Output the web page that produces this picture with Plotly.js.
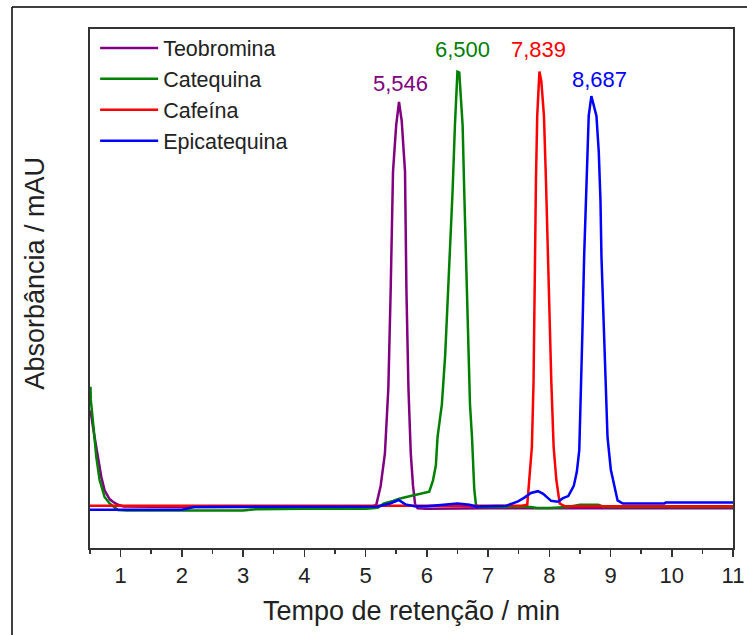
<!DOCTYPE html>
<html>
<head>
<meta charset="utf-8">
<script src="https://cdn.plot.ly/plotly-3.0.1.min.js"></script>
<style>html,body{margin:0;padding:0;background:#fff;}#chart{width:747px;height:635px;}</style>
</head>
<body>
<div id="chart"></div>
<script>
// Series names and colours
const seriesNames = ["Teobromina", "Catequina", "Cafeína", "Epicatequina"];
const seriesColors = ["#800080", "#008000", "#ff0000", "#0000ff"];

// Teobromina
const teoX = [0.508,0.53,0.562,0.602,0.656,0.684,0.738,0.766,0.82,0.874,0.956,1.05,1.5,2.0,2.5,3.0,3.5,4.0,4.5,5.0,5.1,5.175,5.246,5.316,5.372,5.41,5.448,5.50,5.546,5.59,5.644,5.667,5.70,5.738,5.775,5.81,5.85,6.0,6.5,7.0,7.5,8.0,8.5,9.0,9.5,10.0,10.5,11.0];
const teoY = [22,19.5,17,13.7,9.5,6.9,3.8,3.1,1.8,1.2,0.5,0.1,0,0,0,0,0,0,0,0,0.1,0.5,4.8,12.2,27.1,49.5,76.4,87,92.3,88,76.4,49.5,27.1,12.2,4.8,0.5,-0.3,-0.4,-0.3,-0.3,-0.3,-0.3,-0.3,-0.3,-0.3,-0.3,-0.3,-0.3];

// Catequina
const catX = [0.508,0.513,0.562,0.602,0.656,0.738,0.82,0.956,1.1,1.5,2.0,2.5,3.0,3.2,3.5,4.0,4.5,5.0,5.2,5.3,5.45,5.55,5.70,5.874,5.95,6.04,6.10,6.148,6.175,6.246,6.30,6.349,6.421,6.459,6.50,6.53,6.585,6.611,6.656,6.677,6.705,6.738,6.749,6.775,6.803,6.85,7.0,7.5,7.7,7.8,8.0,8.3,8.5,8.8,8.9,9.5,10.0,11.0];
const catY = [27.4,24.4,17.5,11.5,6.2,2.3,0.8,-0.7,-0.8,-0.8,-0.8,-0.8,-0.8,-0.5,-0.4,-0.4,-0.4,-0.4,-0.2,0.8,1.4,1.9,2.4,3.0,3.3,3.5,6.0,9.5,15.9,23.4,34.6,49.5,72.0,86.9,99.2,99.0,86.9,72.0,49.5,34.6,23.4,15.9,12.2,4.0,0.5,0,0,0,0,-0.2,-0.2,0,0.5,0.5,0,0,0,0];

// Cafeína
const cafX = [0.5,2.0,4.0,5.0,6.0,7.0,7.55,7.64,7.677,7.716,7.743,7.759,7.782,7.803,7.839,7.87,7.913,7.946,7.989,8.033,8.071,8.115,8.17,8.25,9.0,10.0,11.0];
const cafY = [0.3,0.3,0.3,0.3,0.3,0.3,0.3,0.5,6.2,13.7,28.6,51.0,74.2,89.1,99.2,97.0,89.1,74.2,51.0,28.6,13.7,6.2,0.8,0.2,0.2,0.2,0.2];

// Epicatequina
const epiX = [0.5,1.0,2.0,2.2,3.0,3.5,4.0,5.0,5.2,5.4,5.54,5.65,5.8,6.0,6.3,6.5,6.7,6.8,7.3,7.49,7.6,7.7,7.815,7.9,8.03,8.14,8.225,8.31,8.40,8.45,8.49,8.513,8.541,8.569,8.601,8.623,8.644,8.687,8.72,8.770,8.808,8.836,8.852,8.885,8.918,8.951,9.005,9.06,9.115,9.2,9.5,9.88,9.9,10.5,11.0];
const epiY = [-0.6,-0.6,-0.6,0,0,0.1,0.1,0.1,0.1,0.8,1.6,0.6,0.2,0.2,0.5,0.8,0.5,0.1,0.3,1.3,2.2,3.2,3.6,3.0,1.4,1.2,2.0,2.5,4.8,8.0,13.0,24.0,40.0,57.0,69.7,80.9,89.1,93.6,92.0,89.1,80.9,69.7,57.0,42.1,27.1,15.9,8.5,4.7,1.5,0.8,0.8,0.8,1.0,1.0,1.0];

// Peak labels
const peakLabels = ["5,546", "6,500", "7,839", "8,687"];
const peakLabelX = [5.566, 6.59, 7.828, 8.828];
const peakLabelY = [96.4, 104.3, 104.3, 97.3];

const xsData = [teoX, catX, cafX, epiX];
const ysData = [teoY, catY, cafY, epiY];

const traces = seriesNames.map((n, i) => ({
  type: "scatter", mode: "lines", name: n,
  x: xsData[i], y: ysData[i],
  line: {color: seriesColors[i], width: 2.5}
}));

const font = "Arial, 'Liberation Sans', sans-serif";
const annotations = peakLabels.map((t, i) => ({
  x: peakLabelX[i], y: peakLabelY[i], xref: "x", yref: "y",
  text: t, showarrow: false,
  font: {family: font, size: 22, color: seriesColors[i]}
}));
annotations.push({
  text: "Absorbância / mAU", xref: "paper", yref: "paper",
  x: -0.086, y: 0.53, xanchor: "center", yanchor: "middle",
  textangle: -90, showarrow: false,
  font: {family: font, size: 27, color: "#222"}
});

const layout = {
  width: 747, height: 635,
  margin: {l: 90, r: 14, t: 29, b: 87},
  paper_bgcolor: "#fff", plot_bgcolor: "#fff",
  showlegend: true,
  legend: {x: 0.008, y: 1.003, xanchor: "left", yanchor: "top",
    itemwidth: 58,
    bgcolor: "rgba(0,0,0,0)", borderwidth: 0,
    font: {family: font, size: 21.5, color: "#222"}},
  xaxis: {
    range: [0.5, 11], tick0: 1, dtick: 1, tickmode: "linear",
    ticks: "outside", ticklen: 7, tickwidth: 1.5, tickcolor: "#333",
    minor: {ticks: "outside", ticklen: 4, tickwidth: 1.5, tickcolor: "#333", dtick: 0.5, tick0: 0.5},
    showline: true, linecolor: "#333", linewidth: 2, mirror: true,
    showgrid: false, zeroline: false,
    tickfont: {family: font, size: 22, color: "#222"},
    title: {text: "Tempo de retenção / min", font: {family: font, size: 27, color: "#222"}, standoff: 14}
  },
  yaxis: {
    range: [-9.34, 108.9],
    showticklabels: false, ticks: "",
    showline: true, linecolor: "#333", linewidth: 2, mirror: true,
    showgrid: false, zeroline: false
  },
  annotations: annotations,
  shapes: [
    {type: "line", xref: "paper", yref: "paper", x0: -0.1213, x1: -0.1213, y0: 1.0424, y1: -0.3, line: {color: "#000", width: 1.5}},
    {type: "line", xref: "paper", yref: "paper", x0: -0.1213, x1: 1.1, y0: 1.0424, y1: 1.0424, line: {color: "#000", width: 1.5}}
  ]
};

Plotly.newPlot("chart", traces, layout, {displayModeBar: false, staticPlot: true});
</script>
</body>
</html>
